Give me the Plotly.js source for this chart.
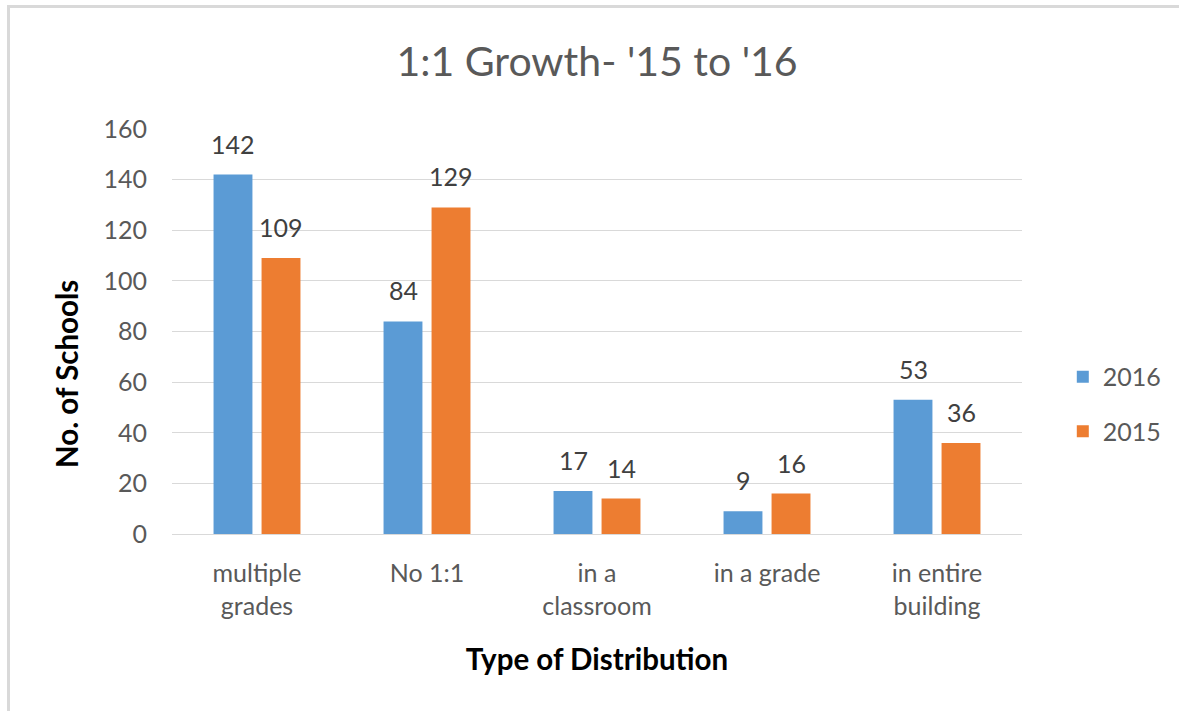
<!DOCTYPE html>
<html>
<head>
<meta charset="utf-8">
<script src="https://cdn.plot.ly/plotly-3.0.1.min.js"></script>
<style>
  html, body { margin: 0; padding: 0; background: #ffffff; }
  #wrap { position: relative; width: 1179px; height: 711px; overflow: hidden; }
  #chart { position: absolute; left: 0; top: 0; width: 1179px; height: 711px; }
  #frame { position: absolute; left: 7px; top: 5px; width: 1300px; height: 800px;
           border-left: 3px solid #d9d9d9; border-top: 3px solid #d9d9d9; pointer-events: none; }
</style>
</head>
<body>
<div id="wrap">
  <div id="chart"></div>
  <div id="frame"></div>
</div>
<script>
// ---- data ----
const categories = ["multiple<br>grades", "No 1:1", "in a<br>classroom", "in a grade", "in entire<br>building"];
const values2016 = [142, 84, 17, 9, 53];
const values2015 = [109, 129, 14, 16, 36];
const seriesNames = ["2016", "2015"];
const yTicks = [0, 20, 40, 60, 80, 100, 120, 140, 160];

const chartTitle = "1:1 Growth- '15 to '16";
const xTitle = "Type of Distribution";
const yTitle = "No. of Schools";

// ---- styles ----
const FONT = "Lato, 'Open Sans', sans-serif";
const BLUE = "#5B9BD5";
const ORANGE = "#ED7D31";
const GREY = "#595959";
const LABEL = "#404040";

const traces = [
  { type: "bar", name: seriesNames[0], x: categories, y: values2016,
    marker: { color: BLUE }, legendgroup: "a", hoverinfo: "skip" },
  { type: "bar", name: seriesNames[1], x: categories, y: values2015,
    marker: { color: ORANGE }, legendgroup: "b", hoverinfo: "skip" }
];

const annotations = [];
const seriesVals = [values2016, values2015];
const shifts = [-24, 24];
seriesVals.forEach((vals, s) => {
  vals.forEach((v, i) => {
    annotations.push({
      x: categories[i], y: v, xref: "x", yref: "y",
      text: String(v), showarrow: false,
      xshift: shifts[s], yshift: 31, yanchor: "middle", xanchor: "center",
      font: { family: FONT, size: 25, color: LABEL }
    });
  });
});
annotations.push({
  xref: "paper", yref: "paper", x: -0.1247, y: 0.395,
  text: "<b>" + yTitle + "</b>", textangle: -90, showarrow: false,
  xanchor: "center", yanchor: "middle",
  font: { family: FONT, size: 29.5, color: "#000000" }
});

const layout = {
  width: 1179, height: 711,
  margin: { l: 172, r: 157, t: 129, b: 177, autoexpand: false },
  paper_bgcolor: "#ffffff", plot_bgcolor: "#ffffff",
  font: { family: FONT, color: GREY },
  title: {
    text: chartTitle, x: 0.5, xref: "paper", xanchor: "center",
    y: 0.9128, yref: "container", yanchor: "middle",
    font: { family: FONT, size: 41, color: GREY }
  },
  barmode: "group", bargap: 0.435, bargroupgap: 0.19,
  xaxis: {
    type: "category", showgrid: false, zeroline: false,
    showline: false, ticks: "",
    tickfont: { family: FONT, size: 25, color: GREY },
    ticklabelstandoff: 22,
    title: { text: "<b>" + xTitle + "</b>", standoff: 30,
             font: { family: FONT, size: 29.5, color: "#000000" } }
  },
  yaxis: {
    range: [0, 160], tickvals: yTicks, ticktext: yTicks.map(String),
    showgrid: true, gridcolor: "#d9d9d9", gridwidth: 1,
    zeroline: true, zerolinecolor: "#d9d9d9", zerolinewidth: 1,
    showline: false, ticks: "",
    tickfont: { family: FONT, size: 25, color: GREY },
    ticklabelstandoff: 24
  },
  showlegend: true,
  legend: {
    x: 1.048, xanchor: "left", y: 0.321, yanchor: "middle",
    traceorder: "grouped", tracegroupgap: 19,
    font: { family: FONT, size: 25, color: GREY },
    bgcolor: "rgba(0,0,0,0)"
  },
  annotations: annotations
};

Plotly.newPlot("chart", traces, layout, { staticPlot: true, displayModeBar: false });
</script>
</body>
</html>
